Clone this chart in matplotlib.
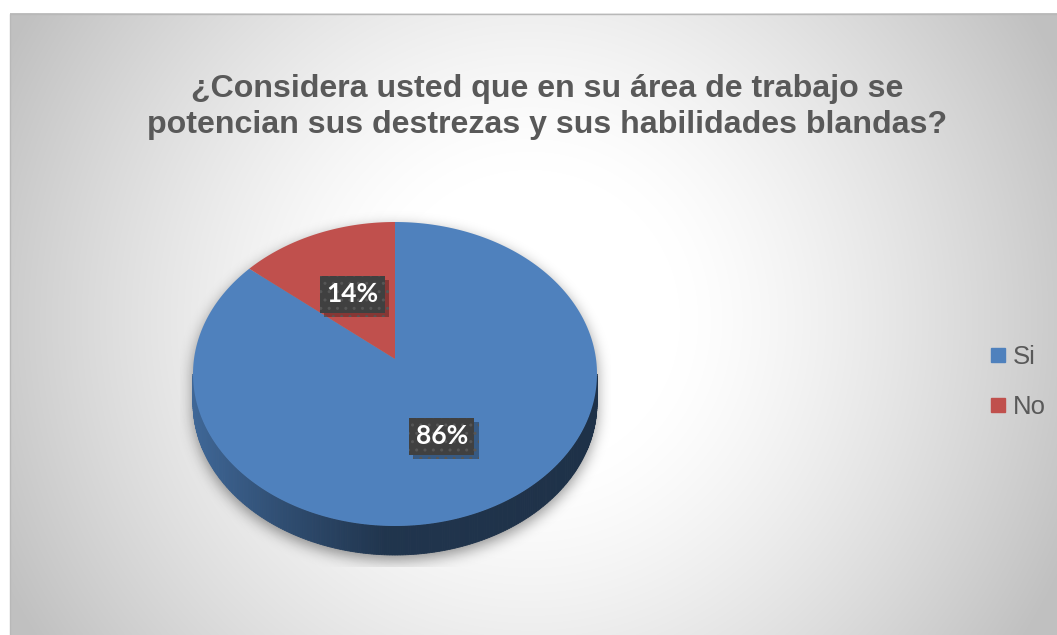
import numpy as np
import matplotlib.pyplot as plt
from matplotlib.patches import Polygon
from matplotlib.lines import Line2D
from matplotlib import patheffects as pe

categories = ['Si', 'No']
values = [86, 14]
colors = ['#4f81bd', '#c0504d']
title = ('¿Considera usted que en su área de trabajo se\n'
         'potencian sus destrezas y sus habilidades blandas?')

W, H = 1057, 635
cx, cy = 395, 374        # centre of the top face, px
rx, ry = 202, 152        # half axes of the top face, px
depth = 29               # thickness of the side wall, px
tilt_k = 0.099           # perspective push of the pie centre


def tilt(x, y, t=tilt_k):
    # projective map of the unit disc onto itself (moves the centre up)
    return x * np.sqrt(1 - t * t) / (1 + t * y), (y + t) / (1 + t * y)


def blur(a, s):
    k = np.exp(-0.5 * (np.arange(-3 * s, 3 * s + 1) / s) ** 2)
    k /= k.sum()
    a = np.apply_along_axis(lambda m: np.convolve(m, k, mode='same'), 0, a)
    a = np.apply_along_axis(lambda m: np.convolve(m, k, mode='same'), 1, a)
    return a


fig = plt.figure(figsize=(W / 100, H / 100), dpi=100)

# background layer in pixel units
bg = fig.add_axes([0, 0, 1, 1])
yy, xx = np.mgrid[0:H, 0:W] + 0.5
r = np.hypot(xx - 530, yy - 320)
g = 1 - (63 / 255) * np.clip((r - 150) / 440, 0, 1) ** 1.3
bg.imshow(np.dstack([g] * 3)[13:, 10:], extent=[10, W, H, 13],
          interpolation='bilinear', aspect='auto', zorder=0)

# soft shadow below the pie
u = (xx - cx) / rx
half = ry * np.sqrt(np.clip(1 - u ** 2, 0, None))
sil = (np.abs(u) <= 1) & (yy >= cy + 5 - half) & (yy <= cy + 5 + depth + half)
sh = blur(sil.astype(float), 7) * 0.42
sh[(xx < 180) | (xx > 611) | (yy < 205) | (yy > 567)] = 0
shadow = np.zeros((H, W, 4))
shadow[..., 3] = sh
bg.imshow(shadow, extent=[0, W, H, 0], aspect='auto', zorder=1)
bg.plot([10, 10, W], [H, 13.5, 13.5], color='#b8b8b8', lw=1, zorder=2)
bg.set_xlim(0, W)
bg.set_ylim(H, 0)
bg.axis('off')

# pie
ax = fig.add_axes([(cx - 1.25 * rx) / W, (H - cy - 1.25 * ry) / H,
                   2.5 * rx / W, 2.5 * ry / H])
wedges, _, autotexts = ax.pie(values, colors=colors, startangle=90,
                              counterclock=False, autopct='%1.0f%%',
                              pctdistance=0.52)
ax.set_aspect('auto')
ax.set_xlim(-1.25, 1.25)
ax.set_ylim(-1.25, 1.25)
ax.axis('off')

for w in wedges:
    th = np.radians(np.linspace(w.theta1, w.theta2, 240))
    px = np.r_[w.center[0], w.r * np.cos(th)]
    py = np.r_[w.center[1], w.r * np.sin(th)]
    uu, vv = tilt(px, py)
    ax.add_patch(Polygon(np.c_[uu, vv], closed=True, facecolor=w.get_facecolor(),
                         edgecolor='none', zorder=3))
    w.set_visible(False)

# side wall, shaded from the colour of the slice in front
d = depth / ry
phis = np.linspace(np.pi, 2 * np.pi, 241)
for p0, p1 in zip(phis[:-1], phis[1:]):
    pm = 0.5 * (p0 + p1)
    ox, oy = tilt(np.cos(pm), np.sin(pm), -tilt_k)
    ang = np.degrees(np.arctan2(oy, ox)) % 360
    base = colors[0]
    for w in wedges:
        a0 = w.theta1 % 360
        if (ang - a0) % 360 <= (w.theta2 - w.theta1):
            base = w.get_facecolor()
    base = np.array(plt.matplotlib.colors.to_rgb(base))
    f = np.interp(np.cos(pm), [-1, -0.55, -0.05, 1], [0.80, 0.60, 0.41, 0.38])
    c = base * f
    quad = [(np.cos(p0), np.sin(p0)), (np.cos(p1), np.sin(p1)),
            (np.cos(p1), np.sin(p1) - d), (np.cos(p0), np.sin(p0) - d)]
    ax.add_patch(Polygon(quad, closed=True, facecolor=c, edgecolor=c,
                         lw=0.6, zorder=2))

# data labels in dark boxes with a drop shadow
for at in autotexts:
    x, y = at.get_position()
    uu, vv = tilt(x, y)
    at.set_position((uu, vv - 0.02))
    at.set(color='white', zorder=6, fontsize=19, fontweight='bold',
           family='Lato')
    at.set_bbox(dict(boxstyle='square,pad=0.25', facecolor='#404040',
                     edgecolor='#565656', hatch='..', lw=0))
    at.get_bbox_patch().set_path_effects(
        [pe.SimplePatchShadow(offset=(3, -3), shadow_rgbFace='black', alpha=0.3),
         pe.Normal()])

fig.text(547 / W, 1 - 107 / H, title, ha='center', va='center',
         fontsize=23.1, fontweight='bold', color='#595959',
         family='Liberation Sans', linespacing=1.3)

handles = [Line2D([], [], ls='', marker='s', markersize=9.5,
                  markerfacecolor=c, markeredgecolor=c) for c in colors]
fig.legend(handles, categories, loc='center left',
           bbox_to_anchor=(977 / W, 1 - 382 / H), frameon=False,
           prop=dict(family='Liberation Sans', size=18.5),
           labelcolor='#595959', handlelength=0.6, handletextpad=0.3,
           labelspacing=1.05, borderpad=0)

fig.savefig('out.png', dpi=100)
